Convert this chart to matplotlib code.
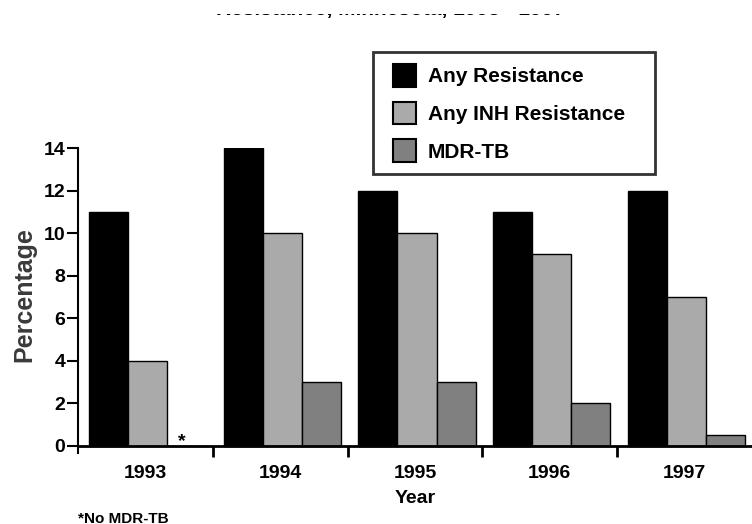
import matplotlib.pyplot as plt
import matplotlib.patches as mpatches
from matplotlib.container import BarContainer
from matplotlib.legend_handler import HandlerPatch
import numpy as np

plt.rcParams['font.family'] = ['Liberation Sans', 'DejaVu Sans']
plt.rcParams['font.weight'] = 'bold'
plt.rcParams['axes.labelweight'] = 'bold'

years = ['1993', '1994', '1995', '1996', '1997']
any_res = [11, 14, 12, 11, 12]
inh_res = [4, 10, 10, 9, 7]
mdr_tb = [0, 3, 3, 2, 0.5]
series_names = ['Any Resistance', 'Any INH Resistance', 'MDR-TB']
series_colors = ['#000000', '#aaaaaa', '#808080']

fig = plt.figure(figsize=(7.52, 5.24), dpi=100)
ax = fig.add_axes([0.1037, 0.1355, 0.8963, 0.582])

x = np.arange(len(years))
w = 0.29
for i, (vals, name, col) in enumerate(zip([any_res, inh_res, mdr_tb], series_names, series_colors)):
    ax.bar(x + (i - 1) * w + 0.015, vals, w, color=col, edgecolor='black', linewidth=1, label=name, zorder=2)

# 1993 had no MDR-TB cases
ax.text(x[0] + w - 0.02, -0.2, '*', ha='center', va='bottom', fontsize=14)

ax.set_xlim(-0.5, 4.5)
ax.set_ylim(-0.35, 14)
ax.set_yticks(range(0, 15, 2))
ax.set_xticks(x)
ax.set_xticklabels(years)
ax.set_xticks(x[:-1] + 0.5, minor=True)
ax.tick_params(axis='x', which='major', length=0, labelsize=14, pad=14)
ax.tick_params(axis='x', which='minor', length=8, width=2, direction='out')
ax.tick_params(axis='y', length=8, width=1.5, labelsize=14, pad=1)

ax.spines['top'].set_visible(False)
ax.spines['right'].set_visible(False)
ax.spines['bottom'].set_position(('data', 0))
ax.spines['bottom'].set_linewidth(2)
ax.spines['bottom'].set_zorder(3)
ax.spines['left'].set_linewidth(1.5)

ax.set_xlabel('Year', fontsize=14, va='top')
ax.xaxis.set_label_coords(0.5, -0.12)
ax.set_ylabel('Percentage', fontsize=18, color='#3a3a3a', va='center', ha='center')
ax.yaxis.set_label_coords(-0.079, 0.52)


def square_patch(legend, orig_handle, xdescent, ydescent, width, height, fontsize):
    # square swatch pushed to the right end of the handle box
    return mpatches.Rectangle((-xdescent + width - height, -ydescent), height, height)


def from_first_bar(legend_handle, orig_handle):
    legend_handle.update_from(orig_handle.patches[0])
    legend_handle.set_linewidth(1.5)


leg = fig.legend(loc='upper left', bbox_to_anchor=(373 / 752, 1 - 174 / 524, 282 / 752, 122 / 524),
                 mode='expand', fontsize=15, frameon=True, fancybox=False, edgecolor='black',
                 handlelength=1.5, handleheight=1.3, borderpad=0.57, labelspacing=0.72,
                 handletextpad=0.55, borderaxespad=0,
                 handler_map={BarContainer: HandlerPatch(patch_func=square_patch,
                                                         update_func=from_first_bar)})
leg.get_frame().set_linewidth(2)

fig.text(78 / 752, 1 - 512 / 524, '*No MDR-TB', fontsize=11, va='top')

# title of the original is cut off at the top; only the bottom of its letters shows
fig.text(390 / 752, 1 - 15.5 / 524, 'Resistance, Minnesota, 1993 - 1997',
         fontsize=15, ha='center', va='baseline')
fig.patches.append(mpatches.Rectangle((0, 1 - 13.5 / 524), 1, 13.5 / 524, transform=fig.transFigure,
                                      facecolor='white', edgecolor='none', zorder=10))

fig.savefig('out.png', dpi=100)
